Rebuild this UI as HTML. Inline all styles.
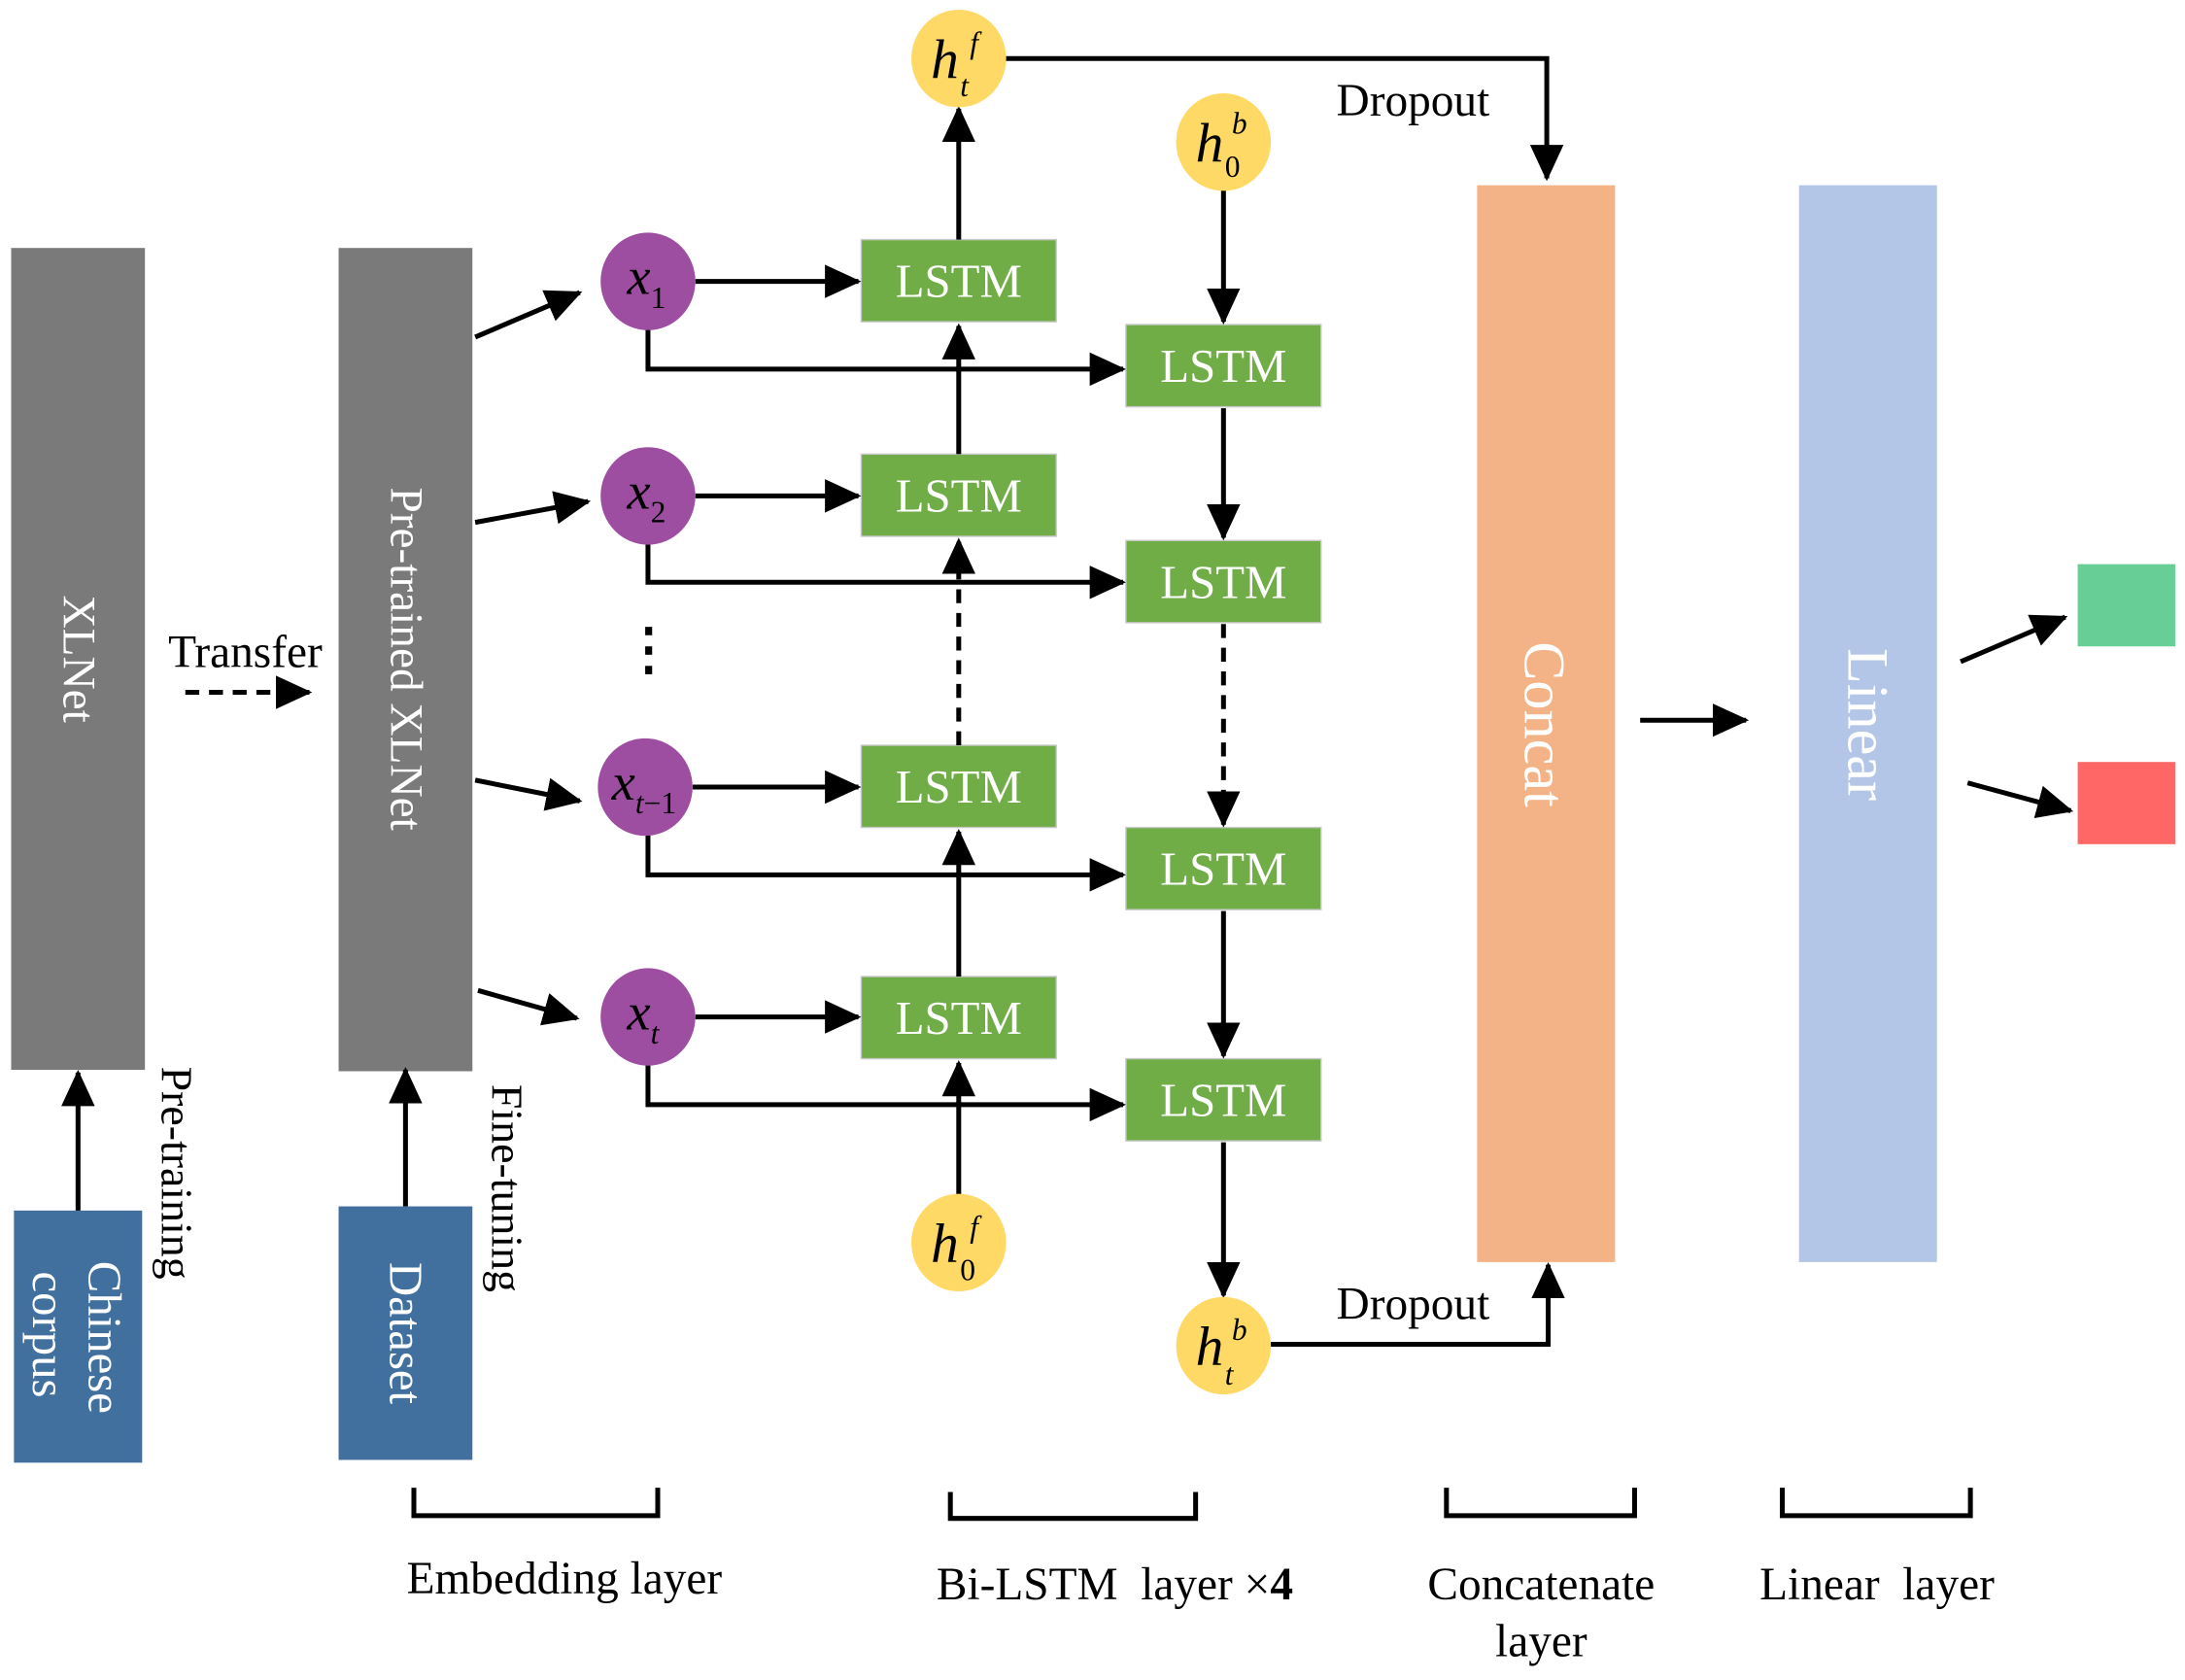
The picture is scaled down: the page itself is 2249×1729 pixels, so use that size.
<!DOCTYPE html>
<html><head><meta charset="utf-8"><style>
html,body{margin:0;padding:0;background:#fff;width:2249px;height:1729px;overflow:hidden}
svg{display:block}
text{font-family:"Liberation Serif",serif}
</style></head><body>
<svg width="2249" height="1729" viewBox="0 0 1568 1206" preserveAspectRatio="none" xmlns="http://www.w3.org/2000/svg">
<defs>
<marker id="a" markerUnits="userSpaceOnUse" markerWidth="26" markerHeight="24" refX="24" refY="12" orient="auto"><path d="M0,0 L26,12 L0,24 z" fill="#000"/></marker>
</defs>
<g fill="#fff" font-size="33">
<rect x="8" y="178" width="96" height="590" fill="#7a7a7a"/>
<rect x="243" y="178" width="96" height="591" fill="#7a7a7a"/>
<rect x="10" y="869" width="92" height="181" fill="#41709e"/>
<rect x="243" y="866" width="96" height="182" fill="#41709e"/>
<text transform="translate(56,473) rotate(90)" text-anchor="middle" dominant-baseline="central">XLNet</text>
<text transform="translate(291,473) rotate(90)" text-anchor="middle" dominant-baseline="central">Pre-trained XLNet</text>
<text transform="translate(75,960) rotate(90)" text-anchor="middle" dominant-baseline="central" font-size="34">Chinese</text>
<text transform="translate(35,958) rotate(90)" text-anchor="middle" dominant-baseline="central" font-size="34">corpus</text>
<text transform="translate(291,957) rotate(90)" text-anchor="middle" dominant-baseline="central" font-size="34">Dataset</text>
<rect x="1060" y="133" width="99" height="773" fill="#f3b386"/>
<rect x="1291" y="133" width="99" height="773" fill="#b4c6e7"/>
<text transform="translate(1108,520) rotate(90)" text-anchor="middle" dominant-baseline="central" font-size="42">Concat</text>
<text transform="translate(1340,520) rotate(90)" text-anchor="middle" dominant-baseline="central" font-size="42">Linear</text>
<rect x="1491" y="405" width="70" height="59" fill="#67cf96"/>
<rect x="1491" y="547" width="70" height="59" fill="#ff6666"/>
<g fill="#70ad47" stroke="#c8c8c8" stroke-width="1">
<rect x="618" y="172" width="140" height="59"/>
<rect x="618" y="326" width="140" height="59"/>
<rect x="618" y="535" width="140" height="59"/>
<rect x="618" y="701" width="140" height="59"/>
<rect x="808" y="233" width="140" height="59"/>
<rect x="808" y="388" width="140" height="59"/>
<rect x="808" y="594" width="140" height="59"/>
<rect x="808" y="760" width="140" height="59"/>
</g>
<g text-anchor="middle" dominant-baseline="central" font-size="34">
<text x="688" y="202">LSTM</text><text x="688" y="356">LSTM</text><text x="688" y="565">LSTM</text><text x="688" y="731">LSTM</text>
<text x="878" y="263">LSTM</text><text x="878" y="418">LSTM</text><text x="878" y="624">LSTM</text><text x="878" y="790">LSTM</text>
</g>
</g>
<g stroke="#000" stroke-width="3.5" fill="none">
<line x1="56" y1="869" x2="56" y2="770" marker-end="url(#a)"/>
<line x1="291" y1="866" x2="291" y2="768" marker-end="url(#a)"/>
<line x1="133" y1="497" x2="222" y2="497" stroke-dasharray="10,7" marker-end="url(#a)"/>
<line x1="341" y1="242" x2="416" y2="210" marker-end="url(#a)"/>
<line x1="341" y1="375" x2="422" y2="360" marker-end="url(#a)"/>
<line x1="341" y1="560" x2="416" y2="575" marker-end="url(#a)"/>
<line x1="343" y1="711" x2="414" y2="731" marker-end="url(#a)"/>
<line x1="499" y1="202" x2="616" y2="202" marker-end="url(#a)"/>
<line x1="499" y1="356" x2="616" y2="356" marker-end="url(#a)"/>
<line x1="497" y1="565" x2="616" y2="565" marker-end="url(#a)"/>
<line x1="499" y1="730" x2="616" y2="730" marker-end="url(#a)"/>
<path d="M465,236 V265 H806" marker-end="url(#a)"/>
<path d="M465,390 V418 H806" marker-end="url(#a)"/>
<path d="M465,599 V628 H806" marker-end="url(#a)"/>
<path d="M465,764 V793 H806" marker-end="url(#a)"/>
<line x1="688" y1="858" x2="688" y2="763" marker-end="url(#a)"/>
<line x1="688" y1="701" x2="688" y2="597" marker-end="url(#a)"/>
<line x1="688" y1="535" x2="688" y2="388" stroke-dasharray="10,7" marker-end="url(#a)"/>
<line x1="688" y1="326" x2="688" y2="234" marker-end="url(#a)"/>
<line x1="688" y1="172" x2="688" y2="78" marker-end="url(#a)"/>
<line x1="878" y1="136" x2="878" y2="231" marker-end="url(#a)"/>
<line x1="878" y1="293" x2="878" y2="386" marker-end="url(#a)"/>
<line x1="878" y1="448" x2="878" y2="592" stroke-dasharray="10,7" marker-end="url(#a)"/>
<line x1="878" y1="654" x2="878" y2="758" marker-end="url(#a)"/>
<line x1="878" y1="820" x2="878" y2="930" marker-end="url(#a)"/>
<path d="M722,42 H1110 V128" marker-end="url(#a)"/>
<path d="M912,965 H1111 V908" marker-end="url(#a)"/>
<line x1="1177" y1="517" x2="1253" y2="517" marker-end="url(#a)"/>
<line x1="1407" y1="475" x2="1482" y2="443" marker-end="url(#a)"/>
<line x1="1412" y1="562" x2="1486" y2="582" marker-end="url(#a)"/>
<path d="M297,1068 V1088 H472 V1068"/>
<path d="M682,1071 V1090 H858 V1071"/>
<path d="M1038,1068 V1088 H1173 V1068"/>
<path d="M1279,1068 V1088 H1414 V1068"/>
</g>
<g fill="#000"><rect x="463" y="450" width="5" height="6"/><rect x="463" y="464" width="5" height="6"/><rect x="463" y="478" width="5" height="6"/></g>
<g fill="#9e4ea1">
<ellipse cx="465" cy="202" rx="34" ry="35"/><ellipse cx="465" cy="356" rx="34" ry="35"/>
<ellipse cx="463" cy="565" rx="34" ry="35"/><ellipse cx="465" cy="730" rx="34" ry="35"/>
</g>
<g fill="#ffd966">
<ellipse cx="688" cy="42" rx="34" ry="35"/><ellipse cx="878" cy="102" rx="34" ry="35"/>
<ellipse cx="688" cy="892" rx="34" ry="35"/><ellipse cx="878" cy="966" rx="34" ry="35"/>
</g>
<g font-family="Liberation Serif,serif" fill="#000">
<text x="450" y="211" font-size="38" font-style="italic">x<tspan font-size="22" font-style="normal" dy="10">1</tspan></text>
<text x="450" y="365" font-size="38" font-style="italic">x<tspan font-size="22" font-style="normal" dy="10">2</tspan></text>
<text x="439" y="574" font-size="38" font-style="italic">x<tspan font-size="22" dy="10">t</tspan><tspan font-size="22" font-style="normal">−1</tspan></text>
<text x="450" y="739" font-size="38" font-style="italic">x<tspan font-size="22" dy="10">t</tspan></text>
<text x="668" y="56" font-size="40" font-style="italic">h</text><text x="696" y="38" font-size="22" font-style="italic">f</text><text x="689" y="69" font-size="22" font-style="italic">t</text>
<text x="858" y="116" font-size="40" font-style="italic">h</text><text x="884" y="96" font-size="22" font-style="italic">b</text><text x="879" y="127" font-size="22">0</text>
<text x="668" y="906" font-size="40" font-style="italic">h</text><text x="696" y="888" font-size="22" font-style="italic">f</text><text x="689" y="919" font-size="22">0</text>
<text x="858" y="980" font-size="40" font-style="italic">h</text><text x="884" y="962" font-size="22" font-style="italic">b</text><text x="879" y="994" font-size="22" font-style="italic">t</text>
</g>
<g fill="#000" font-size="33" text-anchor="middle">
<text x="176" y="479">Transfer</text>
<text x="1014" y="83">Dropout</text>
<text x="1014" y="947">Dropout</text>
<text transform="translate(127,842) rotate(90)" dominant-baseline="central" font-size="32">Pre-training</text>
<text transform="translate(364,853) rotate(90)" dominant-baseline="central" font-size="32">Fine-tuning</text>
<text x="405" y="1144">Embedding layer</text>
<text x="800" y="1148">Bi-LSTM&#160;&#160;layer ×<tspan font-weight="bold">4</tspan></text>
<text x="1106" y="1148">Concatenate</text>
<text x="1106" y="1189">layer</text>
<text x="1347" y="1148">Linear&#160;&#160;layer</text>
</g>
</svg>
</body></html>
